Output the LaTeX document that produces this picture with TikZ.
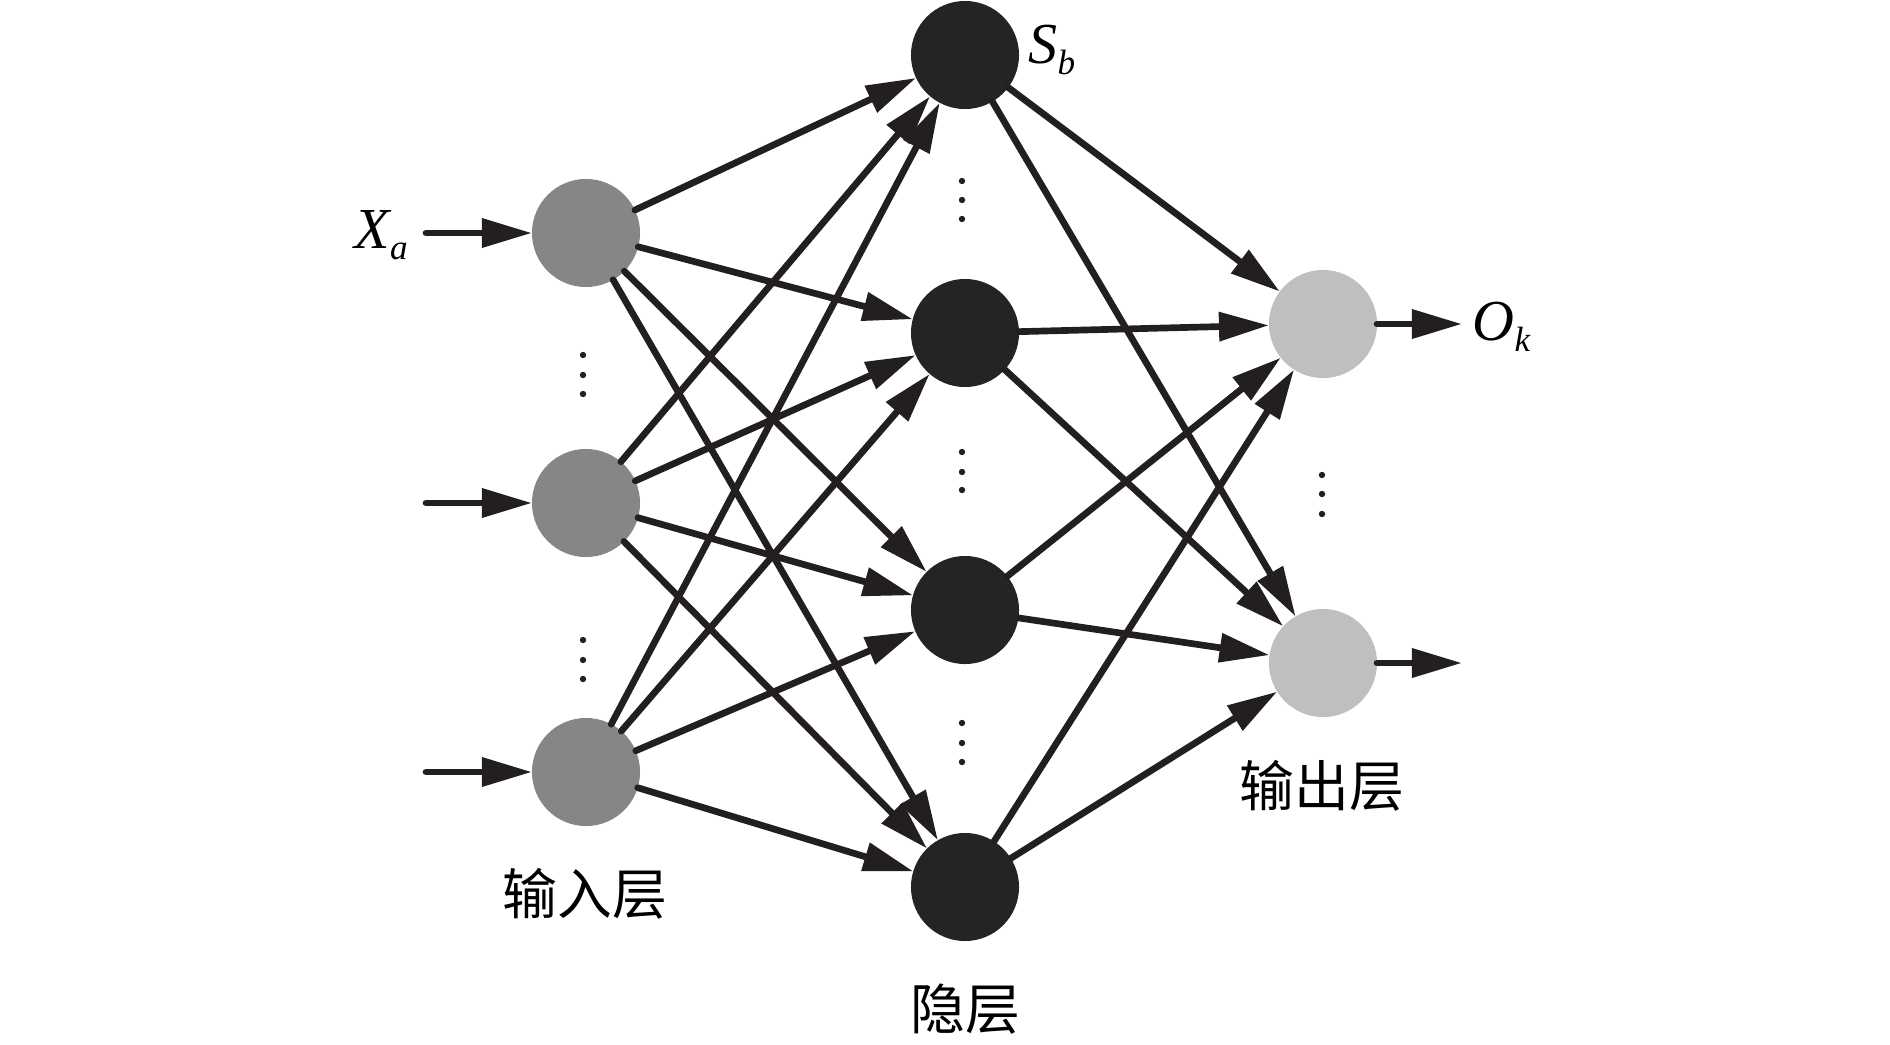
\documentclass[tikz,border=0pt]{standalone}
\usepackage{fontspec}
\setmainfont{Liberation Serif}
\newfontfamily\cjk{Noto Sans CJK SC}
\usetikzlibrary{arrows.meta}
\definecolor{inputgray}{HTML}{858688}
\definecolor{hiddenblack}{HTML}{262324}
\definecolor{outputgray}{HTML}{BEBFC1}
\definecolor{linkblack}{HTML}{231F20}
\newcommand{\layerlabel}[1]{{\cjk\fontsize{15.6}{18}\selectfont #1}}
\newcommand{\varlabel}[2]{{\fontsize{16.5}{19}\selectfont\itshape #1\raisebox{-3.2pt}{\fontsize{10}{12}\selectfont #2}}}
\begin{document}
\begin{tikzpicture}[x=0.01cm,y=-0.01cm,
    neuron/.style={circle,inner sep=0pt,outer sep=0pt,minimum size=1.08cm},
    inneuron/.style={neuron,fill=inputgray},
    hidneuron/.style={neuron,fill=hiddenblack},
    outneuron/.style={neuron,fill=outputgray},
    link/.style={draw=linkblack,line width=1.9pt,line cap=round,-{Triangle[length=0.5cm,width=0.28cm]}},
    tag/.style={inner sep=0pt,anchor=base west},
    layertag/.style={inner sep=0pt,anchor=base}]
  \useasboundingbox (0,0) rectangle (1890,1045);
        \node[inneuron] (in1) at (586,233) {};
        \node[inneuron] (in2) at (586,503) {};
        \node[inneuron] (in3) at (586,772) {};
        \node[hidneuron] (hid1) at (965,55) {};
        \node[hidneuron] (hid2) at (965,333) {};
        \node[hidneuron] (hid3) at (965,610) {};
        \node[hidneuron] (hid4) at (965,887) {};
        \node[outneuron] (out1) at (1323,324) {};
        \node[outneuron] (out2) at (1323,663) {};
        \coordinate (xin1) at (426,233);
        \coordinate (xin2) at (426,503);
        \coordinate (xin3) at (426,772);
        \coordinate (yout1) at (1462,324);
        \coordinate (yout2) at (1462,663);
        \foreach \i in {1,2,3} {
          \draw[link] (xin\i) -- (in\i);
          \foreach \j in {1,...,4}
            \draw[link] (in\i) -- (hid\j);
        }
        \foreach \j in {1,...,4}
          \foreach \k in {1,2}
            \draw[link] (hid\j) -- (out\k);
        \draw[link] (out1) -- (yout1);
        \draw[link] (out2) -- (yout2);
        \foreach \x/\y in {583/355,583/375,583/394,583/640,583/660,583/679,
            962/181,962/200,962/219,962/452,962/472,962/490,962/723,962/743,962/762,
            1322/475,1322/494,1322/514}
          \fill[linkblack] (\x,\y) circle (0.032cm);
        \node[tag] (xlabel) at (354,248) {\varlabel{X}{a}};
        \node[tag] (slabel) at (1028,63) {\varlabel{S}{b}};
        \node[tag] (olabel) at (1472,340) {\varlabel{O}{k}};
        \node[layertag] (inlabel) at (585,914) {\layerlabel{输入层}};
        \node[layertag] (hidlabel) at (965,1029) {\layerlabel{隐层}};
        \node[layertag] (outlabel) at (1322,806) {\layerlabel{输出层}};
\end{tikzpicture}
\end{document}
